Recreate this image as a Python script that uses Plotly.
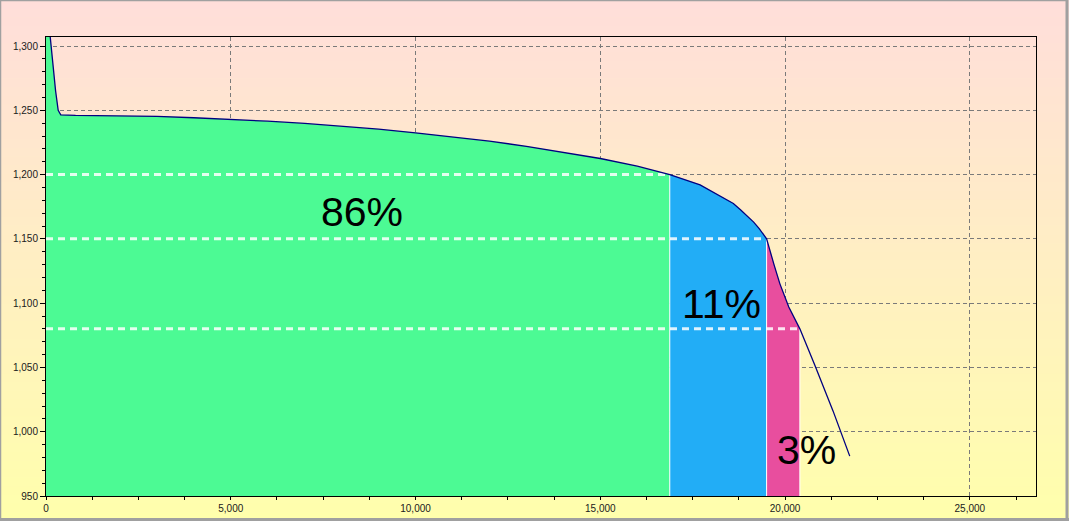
import plotly.graph_objects as go

# ---- data ----
curve_x = [0, 100, 180, 260, 330, 400, 800, 2000, 3000, 4000, 5000, 6000, 7000, 8000,
           9000, 10000, 11000, 12000, 13000, 14000, 15000, 16000, 16880, 17700, 18200,
           18600, 18800, 19000, 19150, 19300, 19500, 19700, 19860, 20100, 20400, 20800,
           21300, 21750]
curve_y = [1340, 1310, 1290, 1265, 1250, 1246.5, 1246, 1245.8, 1245.3, 1244.2, 1243,
           1241.5, 1239.8, 1237.7, 1235.3, 1232.5, 1229.5, 1226, 1222, 1217.5, 1212.5,
           1206.5, 1200, 1192, 1184, 1177.5, 1172.5, 1167, 1163, 1158, 1150, 1130, 1115,
           1097, 1080, 1052, 1016, 981]

region_start = [0, 16880, 19500]
region_end = [16880, 19500, 20400]
thresholds = [1200, 1150, 1080]
region_labels = ["86%", "11%", "3%"]
label_x = [8550, 18290, 20590]
label_y = [1171, 1099, 986]

# ---- styles ----
region_colors = ["#4CFA94", "#22ADF6", "#E84E9E"]
W, H = 1069, 521
ML, MR, MT, MB = 46, 33, 37, 25
PW, PH = W - ML - MR, H - MT - MB

fig = go.Figure()

for s, e, c in zip(region_start, region_end, region_colors):
    xs = [x for x in curve_x if s <= x <= e]
    ys = [y for x, y in zip(curve_x, curve_y) if s <= x <= e]
    fig.add_trace(go.Scatter(x=xs, y=ys, mode="lines", fill="tozeroy",
                             fillcolor=c, line=dict(width=0, color=c),
                             hoverinfo="skip", showlegend=False))

# white separators between regions
for e, t in zip(region_end, thresholds):
    fig.add_trace(go.Scatter(x=[e, e], y=[950, t], mode="lines",
                             line=dict(color="white", width=1),
                             hoverinfo="skip", showlegend=False))

# dashed white threshold lines
for e, t in zip(region_end, thresholds):
    fig.add_trace(go.Scatter(x=[0, e], y=[t, t], mode="lines",
                             line=dict(color="rgba(255,255,255,0.85)", width=3, dash="7px,5px"),
                             hoverinfo="skip", showlegend=False))

# the discharge curve
fig.add_trace(go.Scatter(x=curve_x, y=curve_y, mode="lines",
                         line=dict(color="#000080", width=1.3),
                         hoverinfo="skip", showlegend=False))

for txt, lx, ly in zip(region_labels, label_x, label_y):
    fig.add_annotation(x=lx, y=ly, text=txt, showarrow=False,
                       font=dict(family="Liberation Sans, Arial", size=41, color="black"),
                       xanchor="center", yanchor="middle")

# gradient background stripes
shapes = []
N = 60
top = (255, 222, 218)
bot = (255, 255, 172)
for i in range(N):
    f = i / (N - 1)
    col = "rgb(%d,%d,%d)" % tuple(round(a + (b - a) * f) for a, b in zip(top, bot))
    py0 = i * H / N
    py1 = (i + 1) * H / N + 0.5
    shapes.append(dict(type="rect", xref="paper", yref="paper",
                       x0=-ML / PW, x1=(W - ML) / PW,
                       y0=(H - MB - py1) / PH, y1=(H - MB - py0) / PH,
                       line=dict(width=0), fillcolor=col, layer="below"))
# outer frame
shapes.append(dict(type="rect", xref="paper", yref="paper",
                   x0=(0.5 - ML) / PW, x1=(W - 2 - ML) / PW,
                   y0=(H - MB - (H - 2)) / PH, y1=(H - MB - 0.5) / PH,
                   line=dict(width=1.5, color="#A0A0A0"), fillcolor="rgba(0,0,0,0)", layer="above"))
shapes.append(dict(type="line", xref="paper", yref="paper",
                   x0=(W - 2 - ML) / PW, x1=(W - 2 - ML) / PW,
                   y0=(H - MB - H) / PH, y1=(H - MB) / PH,
                   line=dict(width=3, color="#A0A0A0"), layer="above"))
shapes.append(dict(type="line", xref="paper", yref="paper",
                   x0=-ML / PW, x1=(W - ML) / PW,
                   y0=(H - MB - (H - 1.5)) / PH, y1=(H - MB - (H - 1.5)) / PH,
                   line=dict(width=3, color="#A0A0A0"), layer="above"))

tickfont = dict(family="Liberation Sans, Arial", size=10, color="#202020")
fig.update_layout(
    width=W, height=H, autosize=False,
    margin=dict(l=ML, r=MR, t=MT, b=MB, pad=0),
    paper_bgcolor="#FFEFC8", plot_bgcolor="rgba(0,0,0,0)",
    shapes=shapes,
    xaxis=dict(range=[0, 26790], dtick=5000, tick0=0, tickformat=",d", automargin=False,
               showgrid=True, gridcolor="#7a7a7a", griddash="4px,3px", gridwidth=1,
               zeroline=False, showline=True, linecolor="black", linewidth=1, mirror=True,
               ticks="outside", ticklen=3, tickcolor="black", tickfont=tickfont,
               minor=dict(dtick=1250, ticks="outside", ticklen=3, tickcolor="black", showgrid=False)),
    yaxis=dict(range=[950, 1307], dtick=50, tick0=0, tickformat=",d", automargin=False,
               showgrid=True, gridcolor="#7a7a7a", griddash="4px,3px", gridwidth=1,
               zeroline=False, showline=True, linecolor="black", linewidth=1, mirror=True,
               ticks="outside", ticklen=5, tickcolor="black", tickfont=tickfont,
               minor=dict(dtick=10, ticks="outside", ticklen=3, tickcolor="black", showgrid=False)),
)

fig.write_html("out.html", config={"displayModeBar": False},
               post_script="document.body.style.margin='0px';document.body.style.padding='0px';")
